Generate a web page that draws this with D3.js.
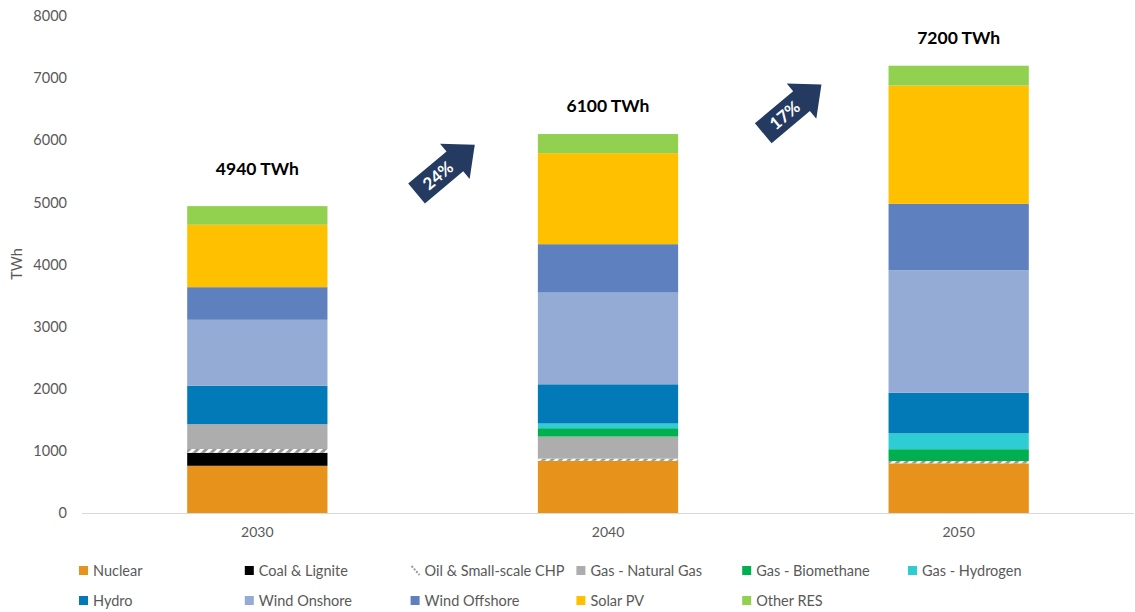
<!DOCTYPE html>
<html><head><meta charset="utf-8">
<script src="https://cdn.jsdelivr.net/npm/d3@7"></script>
<style>
html,body{margin:0;padding:0;background:#fff;}
svg{display:block;font-family:Lato,"Open Sans",sans-serif;}
</style></head>
<body><svg id="c" width="1135" height="612"></svg>
<script>
const years = ["2030","2040","2050"];
const seriesNames = ["Nuclear","Coal & Lignite","Oil & Small-scale CHP","Gas - Natural Gas","Gas - Biomethane","Gas - Hydrogen","Hydro","Wind Onshore","Wind Offshore","Solar PV","Other RES"];
const nuclear      = [760, 840, 800];
const coal         = [210, 0, 0];
const oil          = [60, 35, 37];
const naturalGas   = [400, 355, 0];
const biomethane   = [0, 135, 190];
const hydrogen     = [0, 75, 255];
const hydro        = [620, 632, 655];
const windOnshore  = [1060, 1476, 1971];
const windOffshore = [525, 779, 1068];
const solarPV      = [1005, 1465, 1905];
const otherRES     = [300, 308, 319];
const totalLabels  = ["4940 TWh","6100 TWh","7200 TWh"];
const growthLabels = ["24%","17%"];
const yTicks = [0,1000,2000,3000,4000,5000,6000,7000,8000];
const colors = ["#E6921B","#000000","url(#oilPat)","#ADADAD","#00B050","#2ECCD3","#027AB7","#94ACD5","#5E80BE","#FFC000","#92D050"];

const seriesValues = [nuclear,coal,oil,naturalGas,biomethane,hydrogen,hydro,windOnshore,windOffshore,solarPV,otherRES];
const rows = years.map((y,i)=>{const r={year:y}; seriesNames.forEach((s,k)=>r[s]=seriesValues[k][i]); return r;});

const svg = d3.select("#c");
const defs = svg.append("defs");
const pat = defs.append("pattern").attr("id","oilPat").attr("patternUnits","userSpaceOnUse")
  .attr("width",6).attr("height",6).attr("patternTransform","rotate(45)");
pat.append("rect").attr("width",6).attr("height",6).attr("fill","#ffffff");
pat.append("rect").attr("width",3).attr("height",6).attr("fill","#9a9a9a");

const x = d3.scaleBand().domain(years).range([82,1134]).paddingInner(0.6).paddingOuter(0.3);
const y = d3.scaleLinear().domain([0,8000]).range([513,16]);

const stack = d3.stack().keys(seriesNames)(rows);

// baseline
svg.append("line").attr("x1",82).attr("x2",1134).attr("y1",y(0)+0.5).attr("y2",y(0)+0.5)
  .attr("stroke","#d9d9d9").attr("stroke-width",1);

// bars
svg.append("g").selectAll("g").data(stack).join("g")
  .attr("fill",(d,i)=>colors[i])
  .selectAll("rect").data(d=>d).join("rect")
  .attr("x",d=>x(d.data.year))
  .attr("width",x.bandwidth())
  .attr("y",d=>y(d[1]))
  .attr("height",d=>Math.max(0,y(d[0])-y(d[1])));

// y axis
const yAxis = d3.axisLeft(y).tickValues(yTicks).tickFormat(d3.format("d")).tickSize(0).tickPadding(0);
const ya = svg.append("g").attr("transform","translate(67,0)").call(yAxis);
ya.select(".domain").remove();
ya.selectAll("text").attr("fill","#595959").style("font-size","14.5px").style("font-family","Lato, sans-serif");

svg.append("text").attr("transform","translate(22,264) rotate(-90)").attr("text-anchor","middle")
  .attr("fill","#595959").style("font-size","14.5px").text("TWh");

// x axis
const xAxis = d3.axisBottom(x).tickSize(0).tickPadding(0);
const xa = svg.append("g").attr("transform","translate(0,527)").call(xAxis);
xa.select(".domain").remove();
xa.selectAll("text").attr("fill","#595959").style("font-size","14px").style("font-family","Lato, sans-serif");

// total labels
const totals = rows.map(r=>d3.sum(seriesNames,s=>r[s]));
const labelGap = [31,22,22];
svg.append("g").selectAll("text").data(years).join("text")
  .attr("x",d=>x(d)+x.bandwidth()/2)
  .attr("y",(d,i)=>y(totals[i])-labelGap[i])
  .attr("text-anchor","middle").attr("font-weight","bold")
  .style("font-size","17.5px").attr("fill","#000")
  .text((d,i)=>totalLabels[i]);

// growth arrows between bars
const arrowPath = "M-38,-13 L12,-13 L12,-23 L38,0 L12,23 L12,13 L-38,13 Z";
const arrowShift = [[13,-1],[9,9]];
growthLabels.forEach((g,i)=>{
  const cx = (x(years[i])+x(years[i+1])+x.bandwidth())/2 + arrowShift[i][0];
  const cy = (y(totals[i])+y(totals[i+1]))/2 + arrowShift[i][1];
  const grp = svg.append("g").attr("transform",`translate(${cx},${cy}) rotate(-40)`);
  grp.append("path").attr("d",arrowPath).attr("fill","#243A60");
  grp.append("text").attr("x",-10).attr("y",6).attr("text-anchor","middle")
    .attr("fill","#fff").attr("font-weight","bold").style("font-size","17px").text(g);
});

// legend
const lg = svg.append("g");
seriesNames.forEach((s,i)=>{
  const col = i<6 ? i : i-6;
  const row = i<6 ? 0 : 1;
  const lx = 79 + col*165.8;
  const ly = 571 + row*30;
  const item = lg.append("g").attr("transform",`translate(${lx},${ly})`);
  if(s==="Oil & Small-scale CHP"){
    item.append("line").attr("x1",1).attr("y1",-5).attr("x2",9).attr("y2",4)
      .attr("stroke","#9a9a9a").attr("stroke-width",2).attr("stroke-dasharray","2,1.5");
  } else {
    item.append("rect").attr("x",0).attr("y",-5).attr("width",9).attr("height",9).attr("fill",colors[i]);
  }
  item.append("text").attr("x",14).attr("y",5).attr("fill","#595959").style("font-size","14.5px").text(s);
});
</script></body></html>
